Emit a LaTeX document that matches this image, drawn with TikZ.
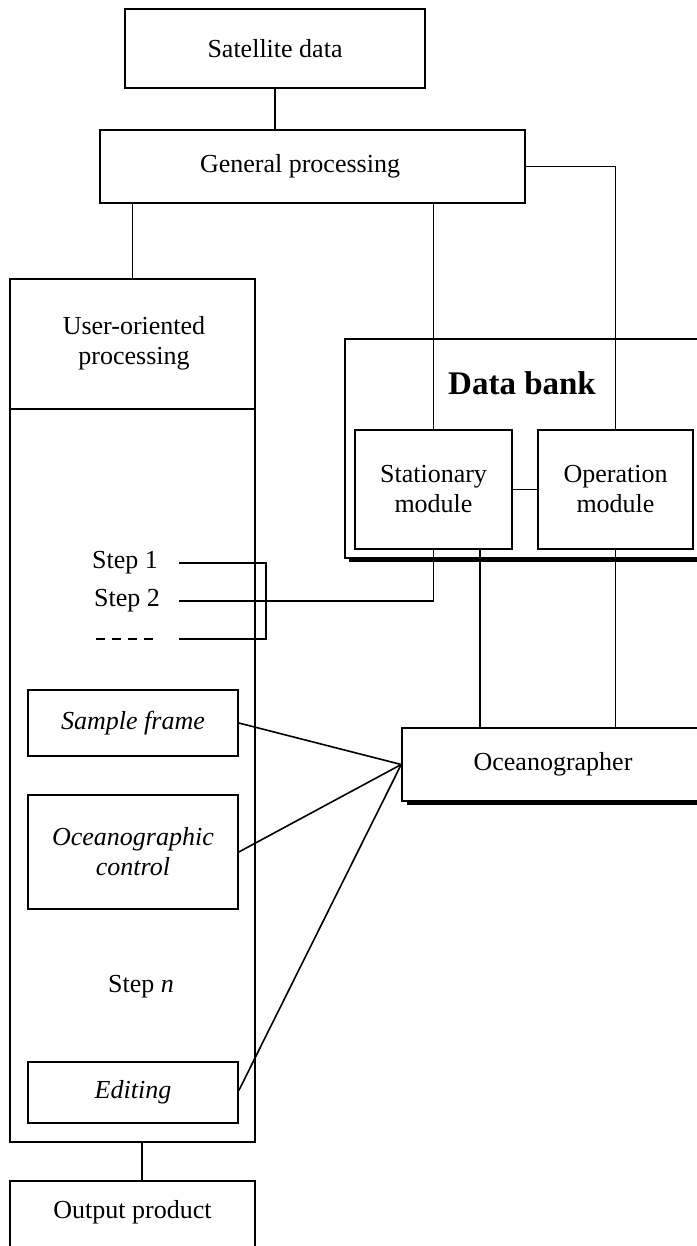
\documentclass[tikz,border=0pt]{standalone}
\usepackage{fontspec}
\setmainfont{Liberation Serif}
\begin{document}
\begin{tikzpicture}[x=0.5pt,y=-0.5pt,
  every node/.style={font=\fontsize{13}{15}\selectfont, align=center, inner sep=0pt},
  box/.style={draw, line width=0.8pt},
  link/.style={line width=0.8pt},
  shade/.style={fill=black, draw=none}]
\useasboundingbox (0,0) rectangle (696,1246);

% top of the chain
\node[box, minimum width=150pt, minimum height=39.5pt] (sat) at (275,48.5) {Satellite data};
\node[box, minimum width=212.5pt, minimum height=36.5pt] (gen) at (312.5,166.5) {};
\node (genlbl) at (300,166.5) {General processing};

% user-oriented processing column
\node[box, minimum width=122.5pt, minimum height=431.5pt] (user) at (132.5,710.5) {};
\coordinate (divl) at (10,409);
\coordinate (divr) at (255,409);
\draw[link] (divl) -- (divr);
\node (userlbl) at (134,343) {User-oriented\\processing};

\node (s1) at (125,563) {Step 1};
\node (s2) at (127,601) {Step 2};
\coordinate (dA) at (96,639);
\coordinate (dB) at (158,639);
\draw[link, dash pattern=on 4.5pt off 3.5pt] (dA) -- (dB);

\node[box, minimum width=105pt, minimum height=33pt] (sample) at (133,723) {\itshape Sample frame};
\node[box, minimum width=105pt, minimum height=57pt] (octrl) at (133,852) {\itshape Oceanographic\\\itshape control};
\node (sn) at (141,987) {Step \textit{n}};
\node[box, minimum width=105pt, minimum height=30.5pt] (edit) at (133,1092.5) {\itshape Editing};

\node[box, minimum width=122.5pt, minimum height=34.5pt] (out) at (132.5,1215.5) {};
\node (outlbl) at (132.5,1212) {Output product};

% data bank with its two modules
\fill[shade] (349,557) rectangle (720,562);
\node[box, fill=white, minimum width=187.5pt, minimum height=109.5pt] (bank) at (532.5,448.5) {};
\node (banklbl) at (522,383) {\fontsize{16.5}{18}\selectfont\bfseries Data bank};
\node[box, minimum width=78.5pt, minimum height=59.5pt] (stat) at (433.5,489.5) {Stationary\\module};
\node[box, minimum width=77.5pt, minimum height=59.5pt] (oper) at (615.5,489.5) {Operation\\module};

% oceanographer
\fill[shade] (407,800) rectangle (720,805);
\node[box, fill=white, minimum width=152pt, minimum height=36.5pt] (ocean) at (554,764.5) {};
\node (oceanlbl) at (553,764.5) {Oceanographer};

% vertical links from the general processing stage
\draw[link] (sat.south) -- (sat.south |- gen.north);
\draw[link] (user.north) -- (user.north |- gen.south);
\draw[link] (stat.north) -- (stat.north |- gen.south);
\draw[link] (gen.east) -| (oper.north);
\draw[link] (stat.east) -- (oper.west);

% step lines and bracket
\coordinate (b1) at (266,563);
\coordinate (b3) at (266,639);
\coordinate (l1) at (179,563);
\coordinate (l2) at (179,601);
\coordinate (l3) at (179,639);
\draw[link] (l1) -- (b1) -- (b3) -- (l3);
\draw[link] (l2) -- (l2 -| stat.south) -- (stat.south);

% module links down to the oceanographer
\coordinate (st2) at (480,549);
\draw[link] (st2) -- (st2 |- ocean.north);
\draw[link] (oper.south) -- (oper.south |- ocean.north);

% oceanographer links to the controlled steps
\draw[link] (sample.east) -- (ocean.west);
\draw[link] (octrl.east) -- (ocean.west);
\draw[link] ([yshift=1pt]edit.east) -- (ocean.west);

% final output
\coordinate (uo) at (142,1142);
\draw[link] (uo) -- (uo |- out.north);
\end{tikzpicture}
\end{document}
